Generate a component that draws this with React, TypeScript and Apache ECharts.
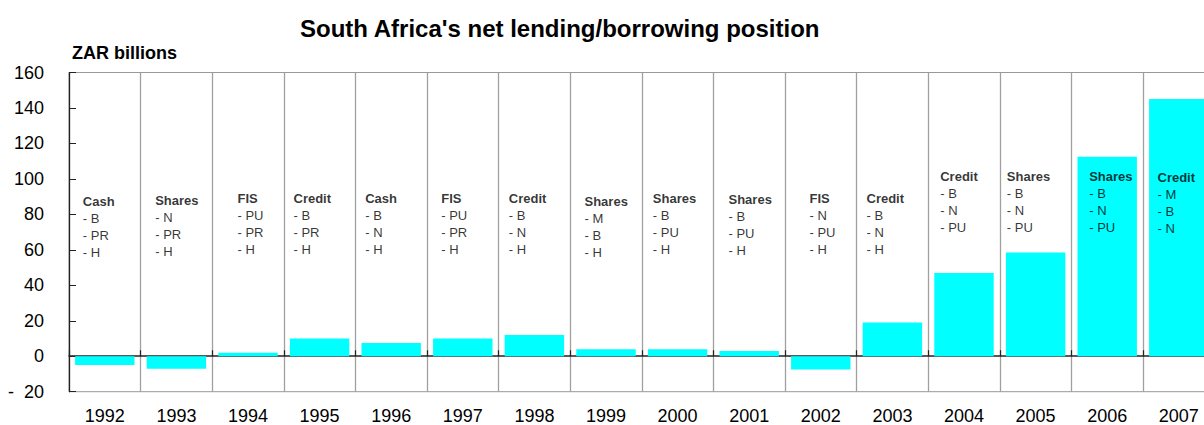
import React, { useEffect, useRef } from 'react';
import * as echarts from 'echarts';

const years = ['1992', '1993', '1994', '1995', '1996', '1997', '1998', '1999', '2000', '2001', '2002', '2003', '2004', '2005', '2006', '2007'];
const netPosition = [-5, -7, 2, 10, 7.5, 10, 12, 4, 4, 3, -7.5, 19, 47, 58.5, 112.5, 145];
const instrument = ['Cash', 'Shares', 'FIS', 'Credit', 'Cash', 'FIS', 'Credit', 'Shares', 'Shares', 'Shares', 'FIS', 'Credit', 'Credit', 'Shares', 'Shares', 'Credit'];
const sectors = [
  ['B', 'PR', 'H'],
  ['N', 'PR', 'H'],
  ['PU', 'PR', 'H'],
  ['B', 'PR', 'H'],
  ['B', 'N', 'H'],
  ['PU', 'PR', 'H'],
  ['B', 'N', 'H'],
  ['M', 'B', 'H'],
  ['B', 'PU', 'H'],
  ['B', 'PU', 'H'],
  ['N', 'PU', 'H'],
  ['B', 'N', 'H'],
  ['B', 'N', 'PU'],
  ['B', 'N', 'PU'],
  ['B', 'N', 'PU'],
  ['M', 'B', 'N'],
];
// vertical level (in ZAR billions) of each note's heading
const noteLevel = [86.9, 87.8, 88.4, 88.8, 88.9, 88.4, 88.4, 86.9, 88.6, 88.0, 88.8, 88.4, 101, 101, 101, 100.4];
// horizontal shift (px) of each note from its category centre
const noteShift = [-21.5, -20.7, -10, -25.6, -25.5, -21.1, -25.1, -21, -24.3, -20.2, -10.8, -25.4, -23.3, -28.3, -17.5, -20.8];

const yMin = -20;
const yMax = 160;
const yStep = 20;

const FONT = 'Liberation Sans, Arial, sans-serif';

export default function App() {
  const ref = useRef<HTMLDivElement>(null);

  useEffect(() => {
    if (!ref.current) return;
    const chart = echarts.init(ref.current, undefined, { renderer: 'svg' });
    const notes = years.map((_, i) => ({
      value: [i, noteLevel[i]],
      label: {
        position: [noteShift[i], -8.5],
        formatter: `{b|${instrument[i]}}\n` + sectors[i].map((s) => `{n|- ${s}}`).join('\n'),
      },
    }));
    chart.setOption({
      animation: false,
      backgroundColor: '#fff',
      textStyle: { fontFamily: FONT },
      title: [
        {
          text: "South Africa's net lending/borrowing position",
          left: 300,
          top: 16,
          padding: 0,
          textStyle: { fontFamily: FONT, fontSize: 24, fontWeight: 'bold', color: '#000' },
        },
        {
          text: 'ZAR billions',
          left: 72,
          top: 43.5,
          padding: 0,
          textStyle: { fontFamily: FONT, fontSize: 18, fontWeight: 'bold', color: '#000' },
        },
      ],
      grid: {
        left: 69,
        right: 15.4,
        top: 72.5,
        bottom: 33.3,
        outerBoundsMode: 'none',
        containLabel: false,
        show: true,
        borderColor: '#999',
        borderWidth: 1,
        backgroundColor: 'transparent',
      },
      xAxis: [
        {
          type: 'category',
          data: years,
          position: 'bottom',
          axisLine: { show: false, onZero: false },
          axisTick: { show: false },
          axisLabel: { interval: 0, margin: 15, color: '#000', fontSize: 18, lineHeight: 18, fontFamily: FONT },
          splitLine: { show: true, interval: 0, lineStyle: { color: '#a0a0a0', width: 1.3 } },
        },
        {
          type: 'category',
          data: years,
          position: 'bottom',
          axisLine: { show: true, onZero: true, lineStyle: { color: '#222', width: 1.5 } },
          axisTick: { show: true, inside: true, length: 6, interval: 0, lineStyle: { color: '#222', width: 1.2 } },
          axisLabel: { show: false },
          splitLine: { show: false },
        },
      ],
      yAxis: {
        type: 'value',
        min: yMin,
        max: yMax,
        interval: yStep,
        axisLine: { show: true, onZero: false, lineStyle: { color: '#222', width: 1.2 } },
        axisTick: { show: true, inside: true, length: 7, lineStyle: { color: '#222', width: 1 } },
        axisLabel: {
          margin: 25,
          color: '#000',
          fontSize: 18,
          fontFamily: FONT,
          formatter: (v: number) => (v < 0 ? `-  ${Math.abs(v)}` : `${v}`),
        },
        splitLine: { show: false },
      },
      series: [
        {
          type: 'bar',
          xAxisIndex: 0,
          data: netPosition,
          barCategoryGap: '17%',
          itemStyle: { color: '#00FFFF' },
          z: 1,
        },
        {
          type: 'scatter',
          xAxisIndex: 0,
          data: notes,
          symbolSize: 1,
          itemStyle: { color: 'rgba(0,0,0,0)' },
          z: 5,
          label: {
            show: true,
            color: '#000',
            fontFamily: FONT,
            rich: {
              b: { fontSize: 13, fontWeight: 'bold', lineHeight: 17, color: '#000', fontFamily: FONT },
              n: { fontSize: 13, lineHeight: 17, color: '#000', fontFamily: FONT },
            },
          },
        },
      ],
    });
    return () => chart.dispose();
  }, []);

  return (
    <div style={{ position: 'absolute', left: 0, top: 0, width: 1204, height: 425, overflow: 'hidden' }}>
      <div ref={ref} style={{ width: 1230, height: 425 }} />
    </div>
  );
}
